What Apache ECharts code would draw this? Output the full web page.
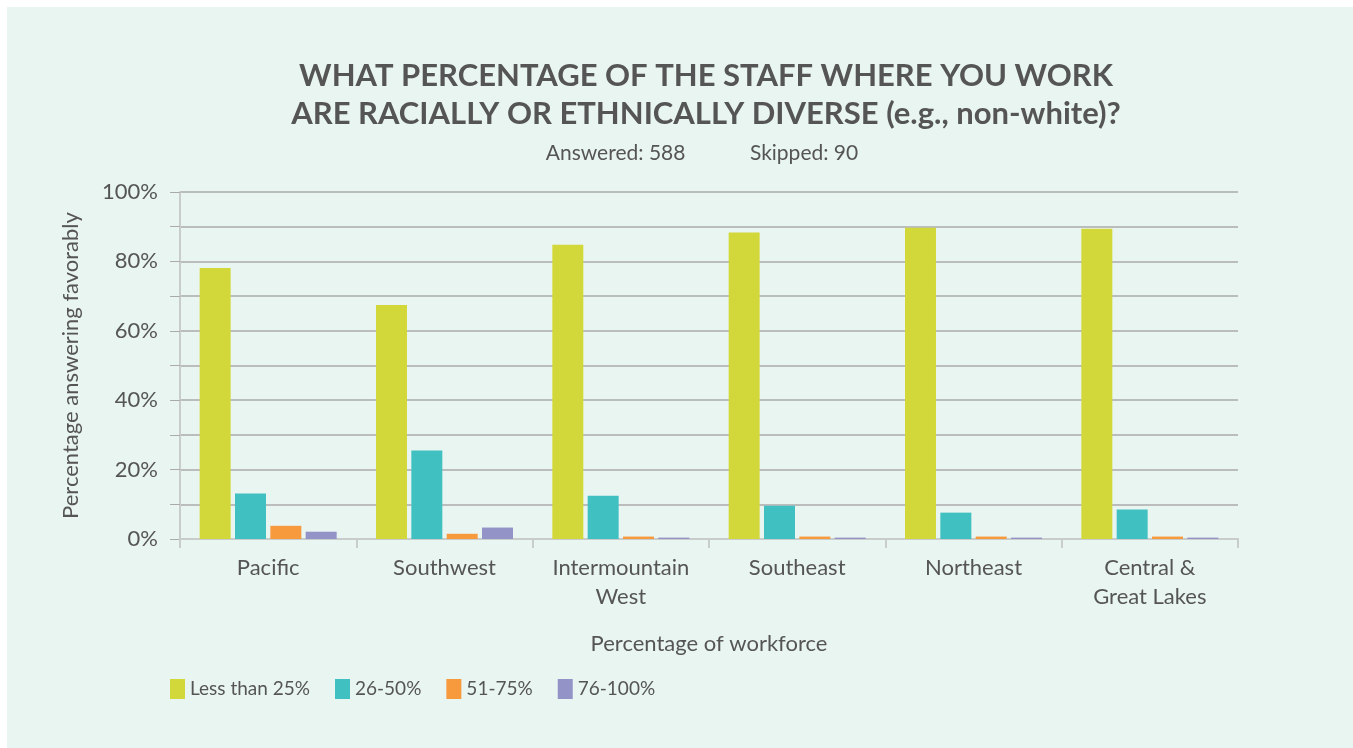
<!DOCTYPE html>
<html>
<head>
<meta charset="utf-8">
<script src="https://cdn.jsdelivr.net/npm/echarts@6/dist/echarts.min.js"></script>
<style>
  html, body { margin: 0; padding: 0; background: #ffffff; }
  #echart { position: absolute; left: 7px; top: 7px; width: 1346px; height: 741px; background: #e9f5f1; }
</style>
</head>
<body>
<div id="echart"></div>
<script>
var regions = ['Pacific', 'Southwest', 'Intermountain\nWest', 'Southeast', 'Northeast', 'Central &\nGreat Lakes']
var seriesNames = ['Less than 25%', '26-50%', '51-75%', '76-100%']
var lessThan25 = [78.1, 67.4, 84.8, 88.3, 89.7, 89.4]
var from26to50 = [13.1, 25.5, 12.5, 9.6, 7.6, 8.5]
var from51to75 = [3.8, 1.5, 0.7, 0.7, 0.7, 0.7]
var from76to100 = [2.1, 3.3, 0.4, 0.4, 0.4, 0.4]
var colors = ['#d3d83a', '#41c0c2', '#f79a3e', '#9393c8']

var myChart = echarts.init(document.getElementById('echart'))
var textColor = '#555555'
var font = 'Lato, "Source Sans Pro", sans-serif'

function bar(name, data) {
    return {
        name: name,
        type: 'bar',
        data: data,
        barWidth: 31,
        barGap: '14%'
    }
}

myChart.setOption({
    animation: false,
    color: colors,
    textStyle: { fontFamily: font, color: textColor },
    title: [
        {
            text: 'WHAT PERCENTAGE OF THE STAFF WHERE YOU WORK\nARE RACIALLY OR ETHNICALLY DIVERSE {s|(e.g., non-white)?}',
            left: 694,
            top: 45,
            textAlign: 'center',
            textStyle: {
                fontFamily: font,
                fontSize: 31,
                fontWeight: 'bold',
                color: textColor,
                lineHeight: 38,
                rich: { s: { fontFamily: font, fontSize: 31, fontWeight: 'bold', color: textColor } }
            }
        },
        {
            text: 'Answered: 588            Skipped: 90',
            left: 690,
            top: 131,
            textAlign: 'center',
            textStyle: { fontFamily: font, fontSize: 21, fontWeight: 'normal', color: textColor }
        }
    ],
    legend: {
        data: seriesNames,
        left: 163,
        top: 672,
        padding: 0,
        itemWidth: 15,
        itemHeight: 20,
        itemGap: 25,
        icon: 'rect',
        textStyle: { fontFamily: font, fontSize: 19, color: textColor }
    },
    grid: { left: 173, right: 115, top: 185, bottom: 209 },
    xAxis: {
        type: 'category',
        data: regions,
        name: 'Percentage of workforce',
        nameLocation: 'middle',
        nameGap: 94,
        nameTextStyle: { fontFamily: font, fontSize: 22, color: textColor },
        axisLine: { lineStyle: { color: '#c8cccb', width: 2 } },
        axisTick: { show: true, interval: 0, length: 9, lineStyle: { color: '#c8cccb', width: 2 } },
        axisLabel: { interval: 0, fontFamily: font, fontSize: 22, color: textColor, margin: 14, lineHeight: 29 }
    },
    yAxis: {
        type: 'value',
        min: 0,
        max: 100,
        interval: 10,
        name: 'Percentage answering favorably',
        nameLocation: 'middle',
        nameGap: 98,
        nameTextStyle: { fontFamily: font, fontSize: 22, color: textColor },
        axisLine: { show: true, lineStyle: { color: '#c8cccb', width: 2 } },
        axisTick: { show: true, length: 10, lineStyle: { color: '#aaaaaa', width: 1 } },
        axisLabel: {
            fontFamily: font,
            fontSize: 22,
            color: textColor,
            margin: 22,
            formatter: function (v) { return v % 20 === 0 ? v + '%' : '' }
        },
        splitLine: { lineStyle: { color: '#aaaaaa', width: 1.5 } }
    },
    series: [
        bar(seriesNames[0], lessThan25),
        bar(seriesNames[1], from26to50),
        bar(seriesNames[2], from51to75),
        bar(seriesNames[3], from76to100)
    ]
})
</script>
</body>
</html>
